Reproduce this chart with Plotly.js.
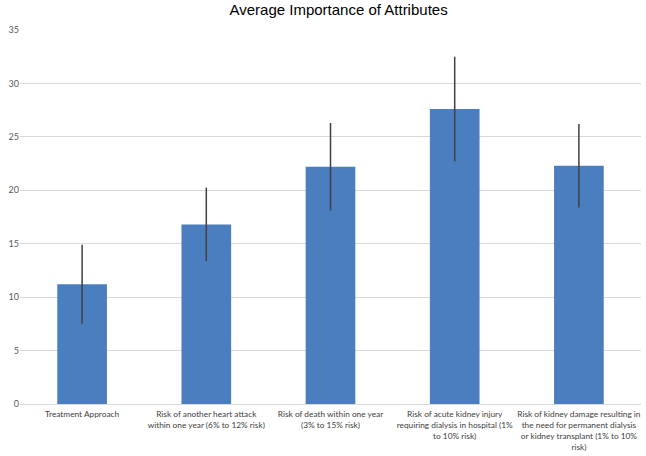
<!DOCTYPE html>
<html>
<head>
<meta charset="utf-8">
<script src="https://cdn.plot.ly/plotly-3.0.1.min.js"></script>
<style>html,body{margin:0;padding:0;background:#fff;}#chart{width:646px;height:456px;}</style>
</head>
<body>
<div id="chart"></div>
<script>
const categories = [
  "Treatment Approach",
  "Risk of another heart attack<br>within one year (6% to 12% risk)",
  "Risk of death within one year<br>(3% to 15% risk)",
  "Risk of acute kidney injury<br>requiring dialysis in hospital (1%<br>to 10% risk)",
  "Risk of kidney damage resulting in<br>the need for permanent dialysis<br>or kidney transplant (1% to 10%<br>risk)"
];
const importance = [11.2, 16.8, 22.2, 27.6, 22.3];
const errorValues = [3.7, 3.45, 4.1, 4.9, 3.9];
const yTicks = [0, 5, 10, 15, 20, 25, 30, 35];

const trace = {
  type: "bar",
  x: categories,
  y: importance,
  width: 0.4,
  marker: {color: "#4a7ebe"},
  error_y: {type: "data", array: errorValues, visible: true, color: "#404040", thickness: 1.5, width: 0},
  hoverinfo: "none"
};

const layout = {
  width: 646, height: 456,
  margin: {l: 20, r: 5, t: 30, b: 52},
  paper_bgcolor: "#fff", plot_bgcolor: "#fff",
  showlegend: false,
  title: {text: "Average Importance of Attributes", xref: "paper", x: 0.513, xanchor: "center", y: 0.99, yanchor: "top",
          font: {family: "Liberation Sans, Arial, sans-serif", size: 15, color: "#000"}},
  xaxis: {
    tickfont: {family: "Lato, Carlito, sans-serif", size: 8.3, color: "#404040"},
    showgrid: false, showline: false, zeroline: false, ticks: "",
    tickangle: 0, automargin: false, ticklabelstandoff: 4
  },
  yaxis: {
    range: [0, 35], tickvals: yTicks, ticktext: yTicks.map(String),
    showgrid: true, gridcolor: "#d9d9d9", gridwidth: 1,
    zeroline: true, zerolinecolor: "#d9d9d9", zerolinewidth: 1,
    showline: false, ticks: "",
    tickfont: {family: "Lato, Carlito, sans-serif", size: 9, color: "#595959"},
    automargin: false
  }
};

Plotly.newPlot("chart", [trace], layout, {displayModeBar: false, staticPlot: true});
</script>
</body>
</html>
